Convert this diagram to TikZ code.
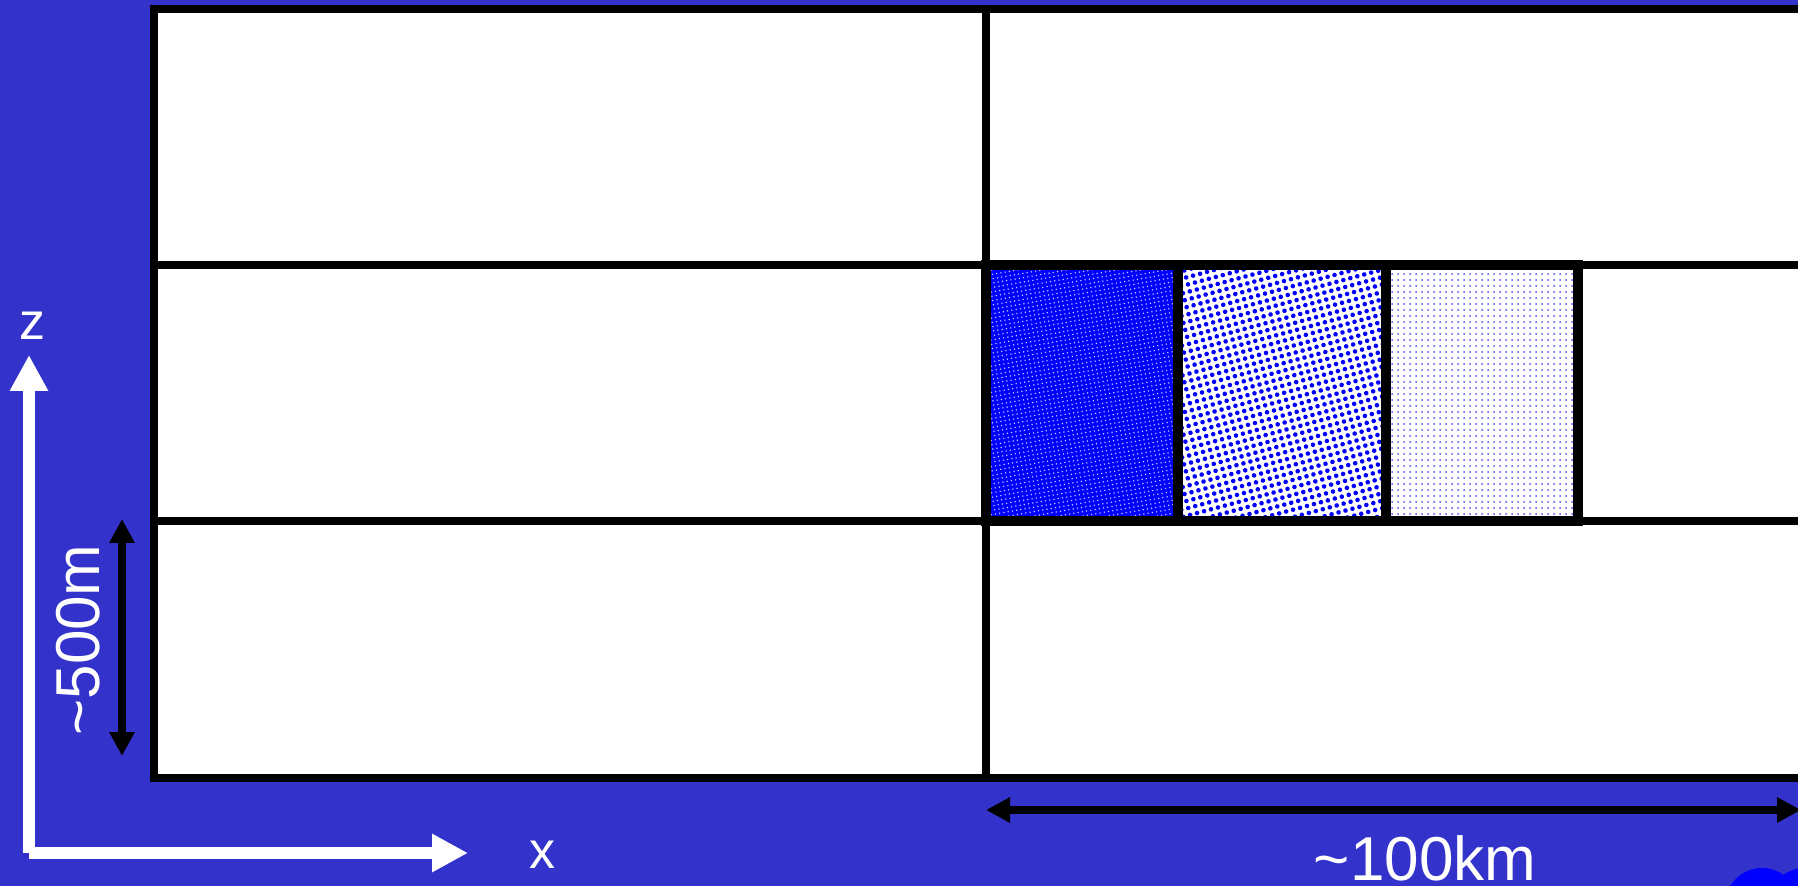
\documentclass[tikz,border=0pt]{standalone}
\usepackage{fontspec}
\setmainfont{Liberation Sans}
\usetikzlibrary{arrows.meta, patterns.meta}
\definecolor{bgblue}{RGB}{51,51,204}
\definecolor{dotblue}{RGB}{0,0,255}

\begin{document}
\begin{tikzpicture}[
    x=0.5pt, y=-0.5pt,
    grid/.style={line width=4pt},
    cellline/.style={line width=5pt},
    axis/.style={white, line width=6pt, -{Triangle[length=18pt, width=18pt]}},
    dim/.style={line width=4pt, {Triangle[length=12pt, width=12pt]}-{Triangle[length=12pt, width=12pt]}},
    lab/.style={white, font=\fontsize{31}{37}\selectfont, inner sep=0pt},
    axlab/.style={white, font=\fontsize{26}{31}\selectfont, inner sep=0pt},
]
\useasboundingbox (0,0) rectangle (1798,886);
\clip (0,0) rectangle (1798,886);
\fill[bgblue] (0,0) rectangle (1798,886);

% model domain
\fill[white] (154,9) rectangle (1840,777.5);
\fill[dotblue] (986,265) rectangle (1178,521);
\fill[pattern={Dots[distance=2.15pt, radius=0.4pt, angle=10]}, pattern color=white!80!dotblue] (986,265) rectangle (1178,521);
\fill[pattern={Dots[distance=3.6pt, radius=1.15pt, angle=15]}, pattern color=dotblue] (1178,265) rectangle (1386,521);
\fill[pattern={Dots[distance=3pt, radius=0.5pt]}, pattern color=dotblue!70!white] (1386,265) rectangle (1578,521);

\draw[grid] (154,9) rectangle (1840,777.5);
\draw[grid] (154,265) -- (1840,265) (154,521) -- (1840,521) (986,9) -- (986,777.5);
\draw[cellline] (986,265) rectangle (1578,521) (1178,265) -- (1178,521) (1386,265) -- (1386,521);

% axes
\coordinate (origin) at (29,853);
\coordinate (ztip) at (29,355);
\coordinate (xtip) at (468,853);
\draw[axis] (origin) -- (ztip);
\draw[axis] (origin) -- (xtip);
\node[axlab, anchor=base] (zlabel) at (32,340) {z};
\node[axlab, anchor=base] (xlabel) at (542,868) {x};

% scales
\coordinate (hbot) at (122,756);
\coordinate (htop) at (122,519);
\draw[dim] (hbot) -- (htop);
\node[lab, rotate=90, anchor=base] (hlabel) at (99,640) {\textasciitilde500m};

\coordinate (lleft) at (986,810);
\coordinate (lright) at (1801,810);
\draw[dim] (lleft) -- (lright);
\node[lab, anchor=base] (llabel) at (1425,880) {\textasciitilde100km};

\fill[dotblue] (1762,905) circle[radius=37] (1805,906) circle[radius=38];
\end{tikzpicture}
\end{document}
